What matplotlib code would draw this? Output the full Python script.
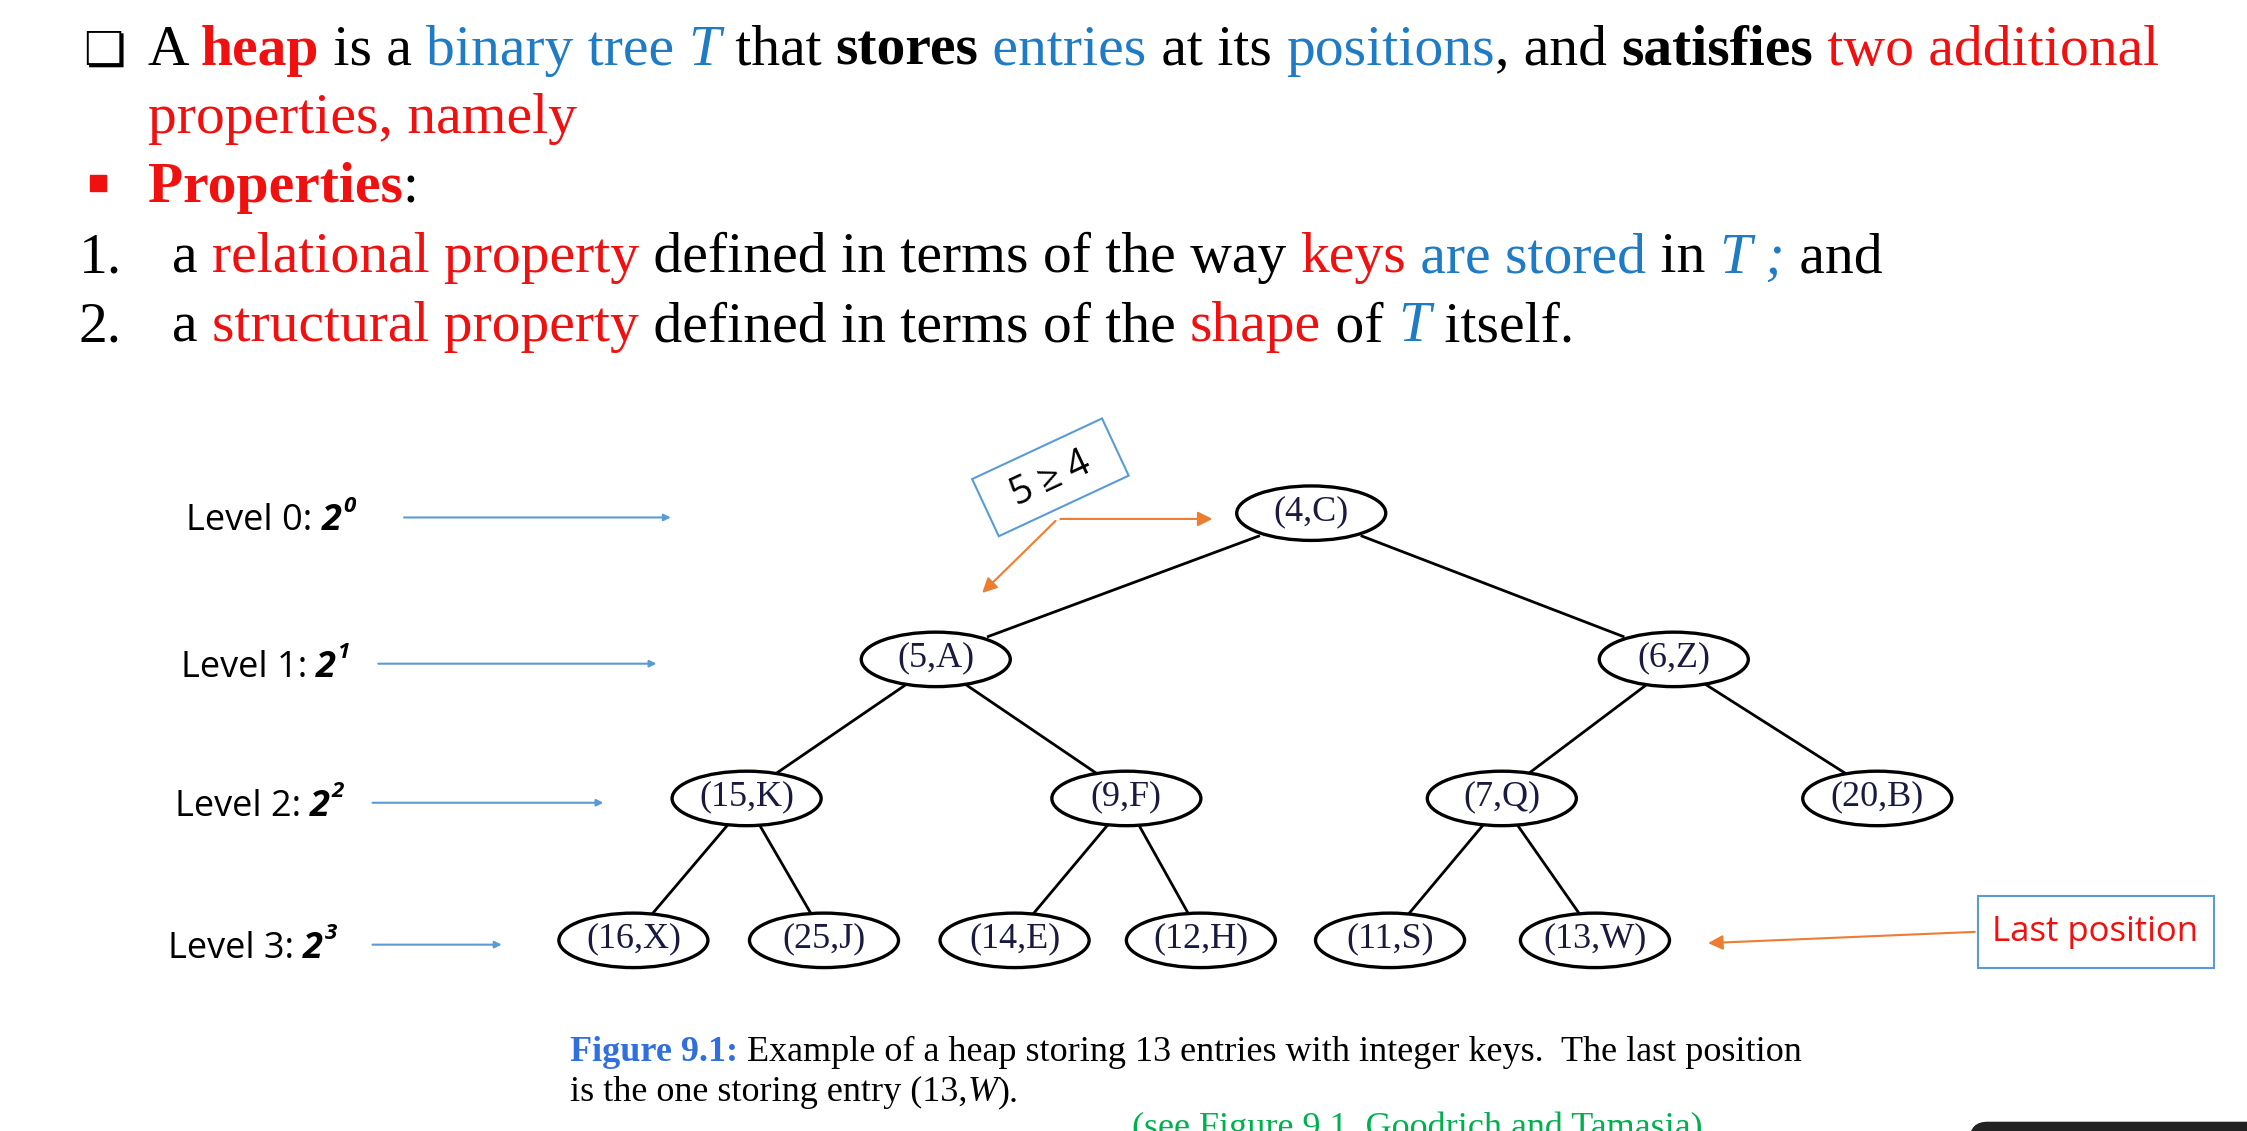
import matplotlib
matplotlib.use('Agg')
import matplotlib.pyplot as plt
from matplotlib.patches import Ellipse, Rectangle, FancyBboxPatch
import matplotlib.transforms as mtrans

# Datos del arbol (heap)
nodos = ['(4,C)', '(5,A)', '(6,Z)', '(15,K)', '(9,F)', '(7,Q)', '(20,B)',
         '(16,X)', '(25,J)', '(14,E)', '(12,H)', '(11,S)', '(13,W)']
niveles = [0, 1, 1, 2, 2, 2, 2, 3, 3, 3, 3, 3, 3]
nodos_x = [915, 653, 1168, 521, 786, 1048, 1310, 442, 575, 708, 838, 970, 1113]
niveles_y = [358, 460, 557, 656]
etiquetas_nivel = ['Level 0: ', 'Level 1: ', 'Level 2: ', 'Level 3: ']
flecha_nivel = [(280, 470), (262, 460), (258, 423), (258, 352)]

W, H = 1568, 789
fig = plt.figure(figsize=(22.47, 11.31), dpi=100)
ax = fig.add_axes([0, 0, 1, 1])
ax.set_xlim(0, W)
ax.set_ylim(H, 0)
ax.axis('off')
fig.canvas.draw()
renderer = fig.canvas.get_renderer()

AZUL = '#1f7bc4'
ROJO = '#f01010'
SERIF = 'Liberation Serif'


def texto_rico(x, y, partes, size=41.5, family=SERIF):
    # partes: lista de (texto, color, weight, style)
    for txt, color, weight, style in partes:
        t = ax.text(x, y, txt, color=color, fontweight=weight, fontstyle=style,
                    fontsize=size, family=family, va='baseline', ha='left')
        bb = t.get_window_extent(renderer)
        x = x + bb.width / fig.bbox.width * W
    return x


n = ('normal', 'normal')
ax.text(58, 45, '\u274f', fontsize=34, family=['DejaVu Sans'], va='baseline')
texto_rico(103, 45, [('A ', 'black', *n), ('heap', ROJO, 'bold', 'normal'), (' is a ', 'black', *n),
                     ('binary tree ', AZUL, *n), ('T', AZUL, 'normal', 'italic'),
                     (' that ', 'black', *n), ('stores', 'black', 'bold', 'normal'),
                     (' entries', AZUL, *n), (' at its ', 'black', *n), ('positions', AZUL, *n),
                     (', and ', 'black', *n), ('satisfies', 'black', 'bold', 'normal'),
                     (' two additional', ROJO, *n)])
texto_rico(103, 93, [('properties, namely', ROJO, *n)])
ax.add_patch(Rectangle((63, 122), 11, 11, color=ROJO))
texto_rico(103, 141, [('Properties', ROJO, 'bold', 'normal'), (':', 'black', *n)])
texto_rico(55, 190, [('1.', 'black', *n)])
texto_rico(120, 190, [('a ', 'black', *n), ('relational property', ROJO, *n),
                      (' defined in terms of the way ', 'black', *n), ('keys', ROJO, *n),
                      (' are stored', AZUL, *n), (' in ', 'black', *n),
                      ('T ;', AZUL, 'normal', 'italic'), (' and', 'black', *n)])
texto_rico(55, 238, [('2.', 'black', *n)])
texto_rico(120, 238, [('a ', 'black', *n), ('structural property', ROJO, *n),
                      (' defined in terms of the ', 'black', *n), ('shape', ROJO, *n),
                      (' of ', 'black', *n), ('T', AZUL, 'normal', 'italic'),
                      (' itself.', 'black', *n)])

# Arbol
ew, eh = 104, 38
for i in range(1, len(nodos)):
    p = (i - 1) // 2
    x0, y0 = nodos_x[p], niveles_y[niveles[p]]
    x1, y1 = nodos_x[i], niveles_y[niveles[i]]
    dx = x1 - x0
    ax.plot([x0 + dx * 0.14, x1 - dx * 0.14], [y0 + eh / 2 - 3, y1 - eh / 2 + 3],
            color='black', lw=2, zorder=1)
for i, lab in enumerate(nodos):
    x, y = nodos_x[i], niveles_y[niveles[i]]
    ax.add_patch(Ellipse((x, y), ew, eh, fc='white', ec='black', lw=2.4, zorder=2))
    ax.text(x, y - 1, lab, ha='center', va='center', fontsize=26, family=SERIF,
            color='#1a1a40', zorder=3)

# Niveles
for k, lab in enumerate(etiquetas_nivel):
    y = niveles_y[k] + 3
    x0, x1 = flecha_nivel[k]
    xl = [130, 126, 122, 117][k]
    xe = texto_rico(xl, y + 9, [(lab, 'black', *n), ('2', 'black', 'bold', 'italic')],
                    size=26, family='Open Sans')
    ax.text(xe + 1, y - 4, str(k), fontsize=16, family='Open Sans', fontweight='bold',
            fontstyle='italic', va='baseline')
    ax.annotate('', xy=(x1, y), xytext=(x0, y),
                arrowprops=dict(arrowstyle='-|>', color='#5b9bd5', lw=1.5))

# Caja 5 >= 4
rot = mtrans.Affine2D().rotate_deg_around(733, 333, -25) + ax.transData
ax.add_patch(Rectangle((683, 311), 100, 44, fc='white', ec='#5b9bd5', lw=1.5, transform=rot))
ax.text(733, 334, '5 \u2265 4', rotation=25, fontsize=27, family='Open Sans',
        ha='center', va='center', rotation_mode='anchor')
naranja = '#ed7d31'
ax.annotate('', xy=(848, 362), xytext=(738, 362),
            arrowprops=dict(arrowstyle='-|>', color=naranja, lw=1.5, mutation_scale=22))
ax.annotate('', xy=(684, 415), xytext=(738, 362),
            arrowprops=dict(arrowstyle='-|>', color=naranja, lw=1.5, mutation_scale=22))

# Last position
ax.add_patch(Rectangle((1380, 625), 165, 50, fc='white', ec='#5b9bd5', lw=1.5))
ax.text(1462, 650, 'Last position', color=ROJO, fontsize=25, family='Open Sans',
        ha='center', va='center')
ax.annotate('', xy=(1190, 658), xytext=(1380, 650),
            arrowprops=dict(arrowstyle='-|>', color=naranja, lw=1.5, mutation_scale=22))

# Pie de figura
xe = texto_rico(398, 740, [('Figure 9.1:', '#2f6fe0', 'bold', 'normal')], size=26)
texto_rico(xe + 6, 740,
           [('Example of a heap storing 13 entries with integer keys.  The last position',
             'black', *n)], size=26)
texto_rico(398, 768, [('is the one storing entry (13,', 'black', *n), ('W', 'black', 'normal', 'italic'),
                      (').', 'black', *n)], size=26)
texto_rico(790, 793, [('(see Figure 9.1, Goodrich and Tamasia)', '#00b050', *n)], size=26)

ax.add_patch(FancyBboxPatch((1375, 783), 300, 40, boxstyle='round,pad=0,rounding_size=12',
                            color='#222222', clip_on=True))

fig.savefig('out.png', dpi=100)
